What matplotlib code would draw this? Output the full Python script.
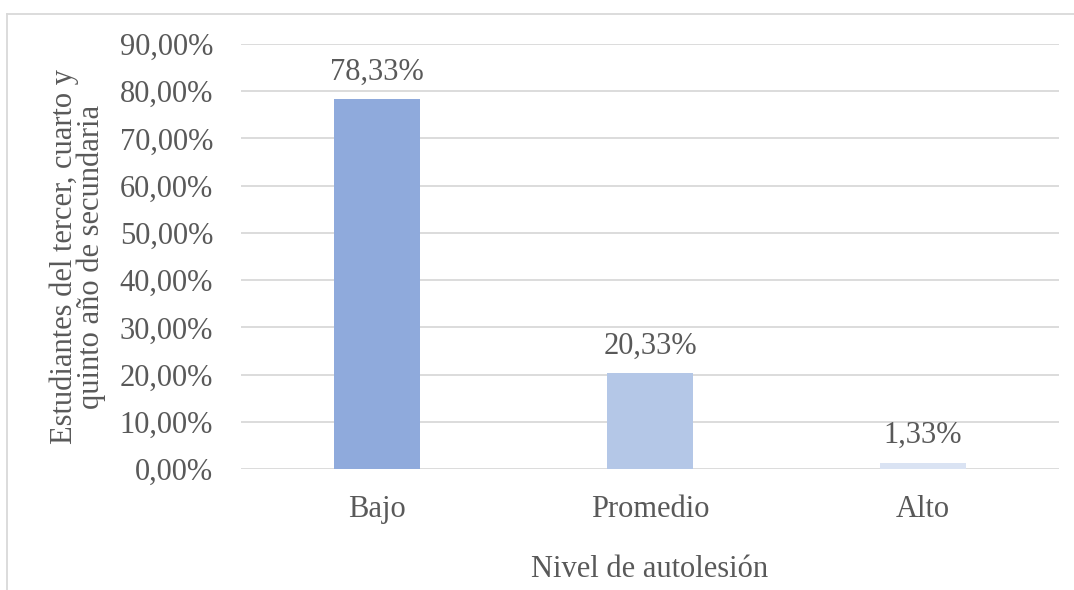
import matplotlib.pyplot as plt
from matplotlib.lines import Line2D

# Data
categories = ['Bajo', 'Promedio', 'Alto']
values = [78.33, 20.33, 1.33]
value_labels = ['78,33%', '20,33%', '1,33%']
yticks = [0, 10, 20, 30, 40, 50, 60, 70, 80, 90]
ytick_labels = ['0,00%', '10,00%', '20,00%', '30,00%', '40,00%', '50,00%',
                '60,00%', '70,00%', '80,00%', '90,00%']
colors = ['#8FAADC', '#B4C7E7', '#DAE3F3']

plt.rcParams['font.family'] = ['Liberation Serif', 'DejaVu Serif']
text_color = '#595959'
grid_color = '#D9D9D9'
fs = 22

fig = plt.figure(figsize=(10.74, 5.90), dpi=100)
ax = fig.add_axes([241 / 1074, 121 / 590, 818 / 1074, 425 / 590])

x = range(len(categories))
bars = ax.bar(x, values, width=0.315, color=colors, zorder=3)

# Value labels above bars
for b, lab in zip(bars, value_labels):
    ax.annotate(lab, (b.get_x() + b.get_width() / 2, b.get_height()),
                xytext=(0, 9), textcoords='offset points',
                ha='center', va='bottom', fontsize=fs, color=text_color)

ax.set_xlim(-0.5, 2.5)
ax.set_ylim(0, 90)
ax.set_yticks(yticks)
ax.set_yticklabels(ytick_labels)
ax.set_xticks(list(x))
ax.set_xticklabels(categories)
ax.tick_params(axis='both', length=0, labelsize=fs, labelcolor=text_color)
ax.tick_params(axis='y', pad=20)
ax.tick_params(axis='x', pad=19)

ax.yaxis.grid(True, color=grid_color, linewidth=1.3, zorder=0)
for s in ax.spines.values():
    s.set_visible(False)

ax.set_ylabel('Estudiantes del tercer, cuarto y\nquinto año de secundaria',
              fontsize=fs, color=text_color, linespacing=0.9, labelpad=10)
ax.set_xlabel('Nivel de autolesión', fontsize=fs, color=text_color, labelpad=22)

# Outer chart border (top and left visible)
fig.add_artist(Line2D([7 / 1074, 1.0], [1 - 14 / 590, 1 - 14 / 590],
                      transform=fig.transFigure, color=grid_color, linewidth=1.3))
fig.add_artist(Line2D([7 / 1074, 7 / 1074], [0, 1 - 14 / 590],
                      transform=fig.transFigure, color=grid_color, linewidth=1.3))

fig.savefig('out.png', dpi=100)
